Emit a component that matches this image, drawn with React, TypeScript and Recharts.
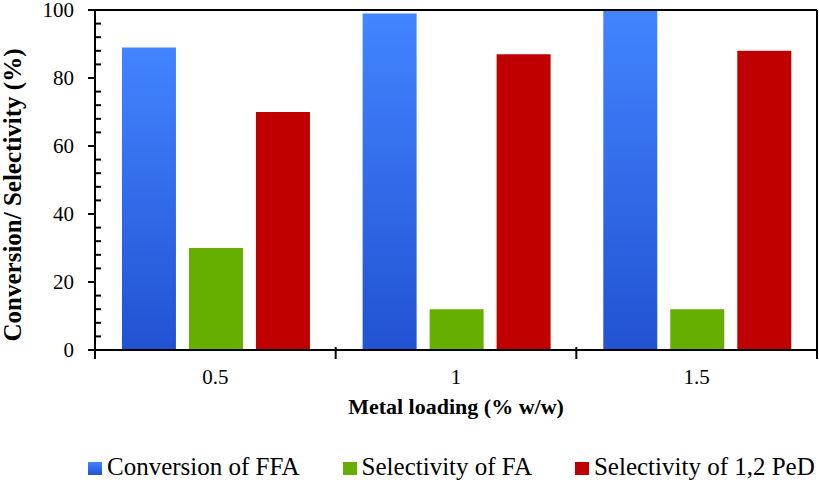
import { Bar, BarChart, Legend, ReferenceLine, XAxis, YAxis } from "recharts";

const loadings = ["0.5", "1", "1.5"];
const conversionFFA = [89, 99, 100];
const selectivityFA = [30, 12, 12];
const selectivityPeD = [70, 87, 88];
const yTicks = [0, 4, 8, 12, 16, 20, 24, 28, 32, 36, 40, 44, 48, 52, 56, 60, 64, 68, 72, 76, 80, 84, 88, 92, 96, 100];
const seriesNames = ["Conversion of FFA", "Selectivity of FA", "Selectivity of 1,2 PeD"];

const data = loadings.map((name, i) => ({
  name,
  ffa: conversionFFA[i],
  fa: selectivityFA[i],
  ped: selectivityPeD[i],
}));

const W = 819;
const H = 483;
const PLOT_LEFT = 95;
const PLOT_RIGHT = 817;
const PLOT_BOTTOM = 350;
const BAND = (PLOT_RIGHT - PLOT_LEFT) / loadings.length;
const FONT = "'Liberation Serif', 'Times New Roman', serif";

function YTick({ y, payload }: any) {
  const v = payload.value;
  if (v % 20 !== 0) {
    return <line x1={PLOT_LEFT} x2={PLOT_LEFT + 6} y1={y} y2={y} stroke="#000" strokeWidth={2} />;
  }
  return (
    <g>
      <line x1={PLOT_LEFT - 7} x2={PLOT_LEFT} y1={y} y2={y} stroke="#000" strokeWidth={2} />
      <text x={74} y={y} dy="0.35em" textAnchor="end" fontFamily={FONT} fontSize={21} fill="#000">
        {v}
      </text>
    </g>
  );
}

function XTick({ x, payload, index }: any) {
  const left = x - BAND / 2;
  return (
    <g>
      <line x1={left} x2={left} y1={PLOT_BOTTOM - 3} y2={PLOT_BOTTOM + 9} stroke="#000" strokeWidth={2} />
      {index === loadings.length - 1 && (
        <line x1={x + BAND / 2} x2={x + BAND / 2} y1={PLOT_BOTTOM - 3} y2={PLOT_BOTTOM + 9} stroke="#000" strokeWidth={2} />
      )}
      <text x={x} y={PLOT_BOTTOM + 34} textAnchor="middle" fontFamily={FONT} fontSize={21} fill="#000">
        {payload.value}
      </text>
    </g>
  );
}

function XLabel({ viewBox }: any) {
  return (
    <text
      x={viewBox.x + viewBox.width / 2}
      y={PLOT_BOTTOM + 64}
      textAnchor="middle"
      fontFamily={FONT}
      fontWeight="bold"
      fontSize={22}
      fill="#000"
    >
      Metal loading (% w/w)
    </text>
  );
}

function YLabel() {
  const cx = 12;
  const cy = 195;
  return (
    <text
      x={cx}
      y={cy}
      transform={`rotate(-90, ${cx}, ${cy})`}
      dy="0.35em"
      textAnchor="middle"
      fontFamily={FONT}
      fontWeight="bold"
      fontSize={25}
      fill="#000"
    >
      Conversion/ Selectivity (%)
    </text>
  );
}

function LegendContent({ payload }: any) {
  const items = [...(payload || [])].sort(
    (a: any, b: any) => seriesNames.indexOf(a.value) - seriesNames.indexOf(b.value)
  );
  return (
    <div
      style={{
        display: "flex",
        justifyContent: "flex-start",
        alignItems: "center",
        gap: 43,
        height: 40,
        paddingTop: 8,
        paddingLeft: 88,
        boxSizing: "border-box",
        fontFamily: FONT,
        fontSize: 25,
        color: "#000",
        whiteSpace: "nowrap",
      }}
    >
      {items.map((item: any) => (
        <div key={item.value} style={{ display: "flex", alignItems: "center" }}>
          <svg width={14} height={13} style={{ marginRight: 5, marginTop: 3 }}>
            <rect width={14} height={13} fill={item.color} />
          </svg>
          <span>{item.value}</span>
        </div>
      ))}
    </div>
  );
}

export default function App() {
  return (
    <div style={{ position: "absolute", left: 0, top: 0, background: "#fff" }}>
      <BarChart
        width={W}
        height={H}
        data={data}
        margin={{ top: 10, right: 0, left: 0, bottom: 0 }}
        barCategoryGap="11.2%"
        barGap={13}
      >
        <defs>
          <linearGradient id="blueGrad" x1="0" y1="0" x2="0" y2="1">
            <stop offset="0%" stopColor="#4384FF" />
            <stop offset="100%" stopColor="#2152D2" />
          </linearGradient>
        </defs>
        <XAxis
          dataKey="name"
          height={93}
          tick={<XTick />}
          tickLine={false}
          axisLine={{ stroke: "#000", strokeWidth: 2 }}
          interval={0}
          label={<XLabel />}
        />
        <YAxis
          yAxisId="left"
          width={PLOT_LEFT}
          domain={[0, 100]}
          ticks={yTicks}
          interval={0}
          tick={<YTick />}
          tickLine={false}
          axisLine={{ stroke: "#000", strokeWidth: 2 }}
          label={<YLabel />}
        />
        <YAxis
          yAxisId="right"
          orientation="right"
          width={2}
          domain={[0, 100]}
          tick={false}
          tickLine={false}
          axisLine={{ stroke: "#000", strokeWidth: 2 }}
        />
        <ReferenceLine yAxisId="left" y={100} stroke="#000" strokeWidth={2} />
        <Legend
          verticalAlign="bottom"
          align="center"
          content={<LegendContent />}
          wrapperStyle={{ height: 40, width: W, left: 0 }}
        />
        <Bar yAxisId="left" dataKey="ffa" name={seriesNames[0]} fill="url(#blueGrad)" isAnimationActive={false} />
        <Bar yAxisId="left" dataKey="fa" name={seriesNames[1]} fill="#66AE00" isAnimationActive={false} />
        <Bar yAxisId="left" dataKey="ped" name={seriesNames[2]} fill="#C00000" isAnimationActive={false} />
      </BarChart>
    </div>
  );
}
